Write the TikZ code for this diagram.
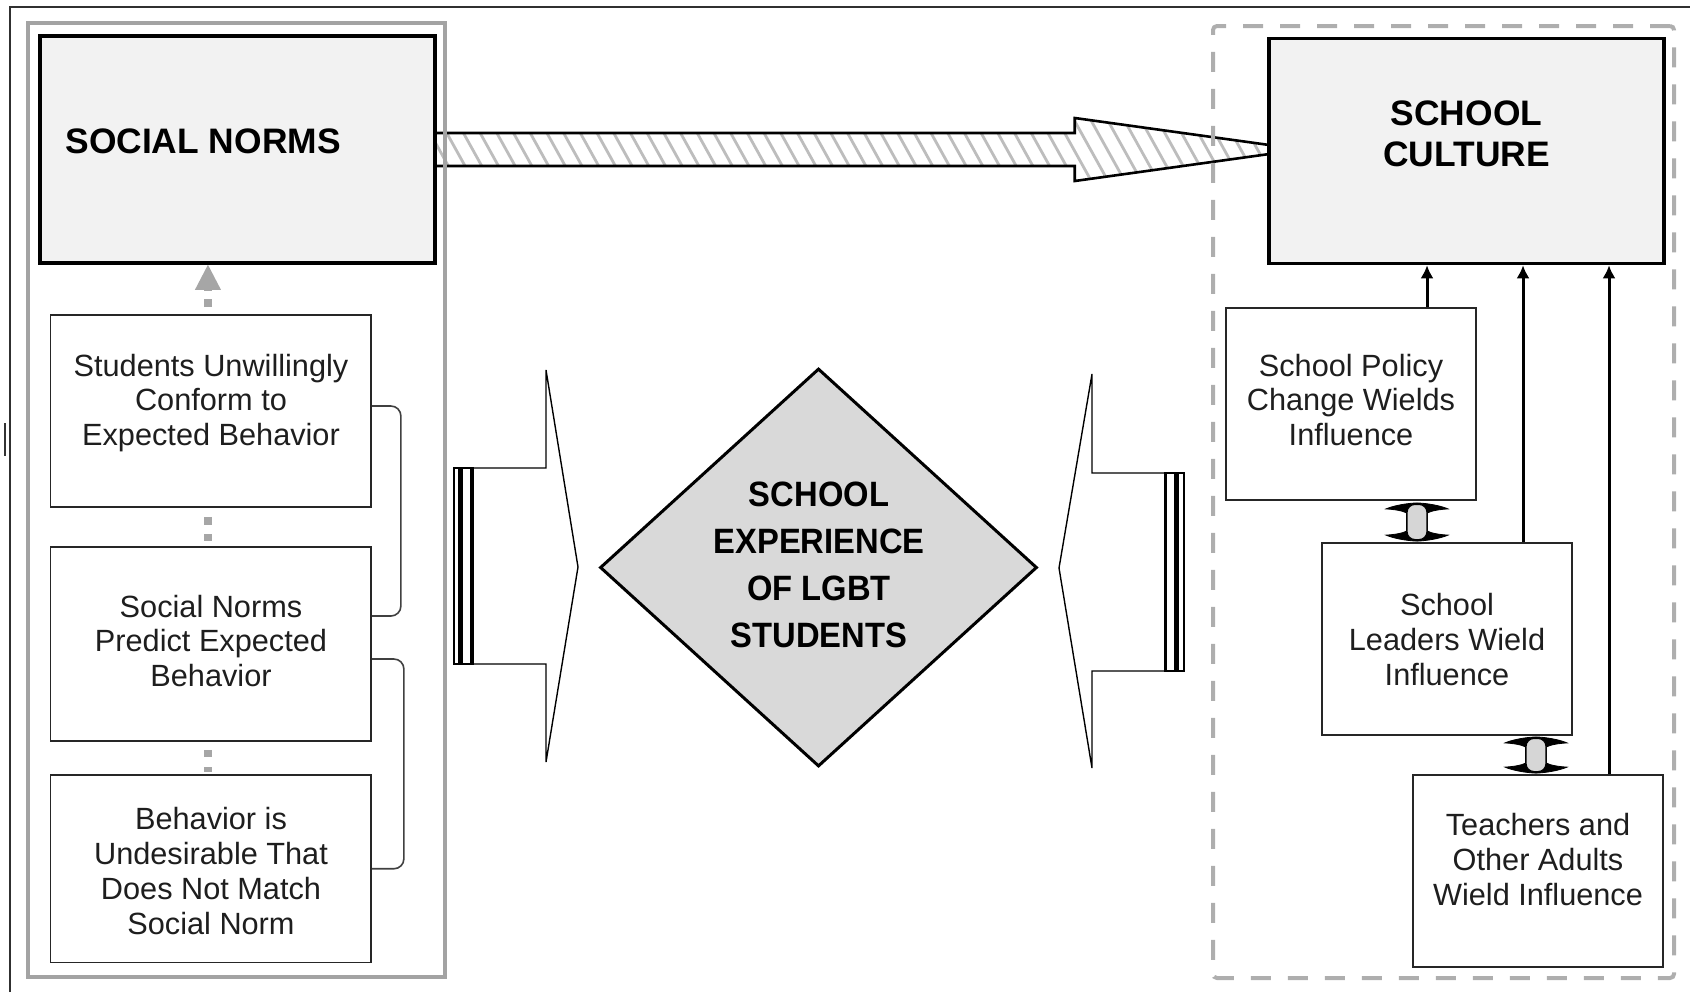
\documentclass[tikz,border=0pt]{standalone}
\usepackage{fontspec}
\setmainfont{Liberation Sans}
\newfontfamily\dfont[FakeStretch=0.93]{Liberation Sans}
\usetikzlibrary{shapes.geometric,arrows.meta,calc}
\definecolor{boxfill}{HTML}{F2F2F2}
\definecolor{diafill}{HTML}{D9D9D9}
\definecolor{graybox}{HTML}{A3A3A3}
\definecolor{dashcol}{HTML}{AEAEAE}
\definecolor{dotgray}{HTML}{A6A6A6}
\definecolor{hatchcol}{HTML}{BDBDBD}
\definecolor{txt}{HTML}{1E1E1E}
\definecolor{framecol}{HTML}{303030}
\definecolor{dagray}{HTML}{D6D6D6}
\pgfdeclarelayer{bg}
\pgfsetlayers{bg,main}
\tikzset{
  titlebox/.style={draw=black, line width=1.75pt, fill=boxfill, inner sep=0pt},
  smallbox/.style={draw=black!85, line width=0.9pt, fill=white, inner sep=0pt},
  boxtext/.style={align=center, inner sep=0pt, anchor=north, text=txt, font=\fontsize{15.35}{17.4}\selectfont},
  titletext/.style={inner sep=0pt, font=\fontsize{17.7}{20.5}\selectfont\bfseries},
  upline/.style={line width=1.5pt, -{Latex[length=6.5pt,width=6.5pt]}},
  dots/.style={draw=dotgray, line width=4pt},
  bracket/.style={draw=black!75, line width=0.8pt, rounded corners=5pt},
  blockarrow/.style={draw=black, line width=0.7pt, fill=white},
  hatch/.style={draw=hatchcol, line width=1.4pt},
  dblouter/.style={fill=black, draw=black, line width=0.4pt},
  dblshaft/.style={fill=dagray, draw=black, line width=0.6pt, rounded corners=4pt}
}
\newcommand\dblarr[2]{%
  \draw[dblouter] (#1) .. controls ($(#1)+(12,0.5)$) and ($(#1)+(24,3)$) .. ($(#1)+(31,6)$)
    .. controls ($(#1)+(22,6.5)$) and ($(#1)+(14,8)$) .. ($(#1)+(10.5,10)$)
    -- ($(#2)+(10.5,-10)$)
    .. controls ($(#2)+(14,-8)$) and ($(#2)+(22,-6.5)$) .. ($(#2)+(31,-6)$)
    .. controls ($(#2)+(24,-3)$) and ($(#2)+(12,-0.5)$) .. (#2)
    .. controls ($(#2)+(-12,-0.5)$) and ($(#2)+(-24,-3)$) .. ($(#2)+(-31,-6)$)
    .. controls ($(#2)+(-22,-6.5)$) and ($(#2)+(-14,-8)$) .. ($(#2)+(-10.5,-10)$)
    -- ($(#1)+(-10.5,10)$)
    .. controls ($(#1)+(-14,8)$) and ($(#1)+(-22,6.5)$) .. ($(#1)+(-31,6)$)
    .. controls ($(#1)+(-24,3)$) and ($(#1)+(-12,0.5)$) .. (#1) -- cycle;
  \draw[dblshaft] ($(#1)+(-10,1.5)$) rectangle ($(#2)+(10,-1.5)$);}
\begin{document}
\begin{tikzpicture}[x=0.5pt,y=-0.5pt]
\useasboundingbox (0,0) rectangle (1690,992);
% outer frame
\draw[line width=1pt, framecol] (9.5,992) -- (9.5,7) -- (1690,7);
\draw[line width=1pt, black!80] (4.7,423) -- (4.7,456);
% containers
\node[draw=graybox, line width=1.8pt, minimum width=208.5pt, minimum height=477pt, inner sep=0pt] (lgrp) at (236.5,500) {};
\node[draw=dashcol, line width=2pt, dash pattern=on 10pt off 8.5pt, rounded corners=2pt, minimum width=230.5pt, minimum height=476pt, inner sep=0pt] (rgrp) at (1443.5,502) {};
% title boxes
\node[titlebox, minimum width=197.5pt, minimum height=113.5pt] (sn) at (237.5,149.5) {};
\node[titletext, anchor=base west] (snt) at (65,153) {SOCIAL NORMS};
\node[titlebox, minimum width=197.5pt, minimum height=112.5pt] (cul) at (1466.5,151) {};
\node[titletext, align=center, anchor=north] (cult) at (1466.5,100) {SCHOOL\\CULTURE};
% left boxes
\node[smallbox, minimum width=160.25pt, minimum height=96pt] (b1) at (210.75,411) {};
\node[boxtext] (b1t) at (211,353.5) {Students Unwillingly\\Conform to\\Expected Behavior};
\node[smallbox, minimum width=160.25pt, minimum height=97pt] (b2) at (210.75,644) {};
\node[boxtext] (b2t) at (211,594.5) {Social Norms\\Predict Expected\\Behavior};
\node[smallbox, minimum width=160.25pt, minimum height=93.75pt] (b3) at (210.75,868.75) {};
\node[boxtext] (b3t) at (211,807) {Behavior is\\Undesirable That\\Does Not Match\\Social Norm};
% right boxes
\node[smallbox, minimum width=125pt, minimum height=96pt] (pol) at (1351,404) {};
\node[boxtext] (polt) at (1351,353.5) {School Policy\\Change Wields\\Influence};
\node[smallbox, minimum width=125pt, minimum height=96pt] (lead) at (1447,639) {};
\node[boxtext] (leadt) at (1447,593) {School\\Leaders Wield\\Influence};
\node[smallbox, minimum width=125pt, minimum height=96pt] (tea) at (1538,871) {};
\node[boxtext] (teat) at (1538,813) {Teachers and\\Other Adults\\Wield Influence};
% diamond
\node[draw, line width=1.5pt, fill=diafill, shape=diamond, minimum width=218.5pt, minimum height=199pt, inner sep=0pt] (dia) at (818.5,567.5) {};
\node[align=center, anchor=north, inner sep=0pt, font=\fontsize{17.6}{23.55}\selectfont\dfont\bfseries] (diat) at (819,481.7) {SCHOOL\\EXPERIENCE\\OF LGBT\\STUDENTS};
% hatched arrow (background)
\coordinate (h1) at ($(sn.east)+(0,-16.5)$);
\coordinate (h2) at ($(sn.east)+(638,-16.5)$);
\coordinate (h3) at ($(sn.east)+(638,-31.5)$);
\coordinate (h4) at ($(sn.east)+(865,0)$);
\coordinate (h5) at ($(sn.east)+(638,31.5)$);
\coordinate (h6) at ($(sn.east)+(638,16.5)$);
\coordinate (h7) at ($(sn.east)+(0,16.5)$);
\begin{pgfonlayer}{bg}
  \fill[white] (h1) -- (h2) -- (h3) -- (h4) -- (h5) -- (h6) -- (h7) -- cycle;
  \begin{scope}
    \clip (h1) -- (h2) -- (h3) -- (h4) -- (h5) -- (h6) -- (h7) -- cycle;
    \foreach \i in {0,...,60} \draw[hatch] ({395+\i*16.7},100) -- ++(50,90);
  \end{scope}
  \draw[line width=1.3pt, line join=miter] (h1) -- (h2) -- (h3) -- (h4) -- (h5) -- (h6) -- (h7);
\end{pgfonlayer}
% up arrows into School Culture
\coordinate (u1) at ([xshift=38pt]pol.north);
\coordinate (u2) at ([xshift=38pt]lead.north);
\coordinate (u3) at ([xshift=35.5pt]tea.north);
\draw[upline] (u1) -- (u1 |- cul.south);
\draw[upline] (u2) -- (u2 |- cul.south);
\draw[upline] (u3) -- (u3 |- cul.south);
% double arrows
\coordinate (da1t) at ([xshift=33pt,yshift=-1pt]pol.south);
\coordinate (da1b) at ([xshift=-15pt,yshift=0.5pt]lead.north);
\coordinate (da2t) at ([xshift=44.5pt,yshift=-0.5pt]lead.south);
\coordinate (da2b) at ([xshift=-1pt,yshift=0.5pt]tea.north);
\dblarr{da1t}{da1b}
\dblarr{da2t}{da2b}
% gray dotted connectors on the left
\coordinate (d1) at ([xshift=-1.4pt]b1.north);
\draw[dots, dash pattern=on 4pt off 4pt, shorten <=3.5pt, -{Triangle[length=12.5pt,width=13pt,line width=0pt,fill=dotgray]}] (d1) -- (d1 |- sn.south);
\coordinate (d2) at ([xshift=-1.4pt]b1.south);
\draw[dots, dash pattern=on 4pt off 4.5pt, shorten <=4.5pt, shorten >=2.5pt] (d2) -- (d2 |- b2.north);
\coordinate (d3) at ([xshift=-1.4pt]b2.south);
\draw[dots, dash pattern=on 3.75pt off 5pt, shorten <=4pt, shorten >=1pt] (d3) -- (d3 |- b3.north);
% brackets
\draw[bracket] ([yshift=2.5pt]b1.east) -- ++(29,0) |- ([yshift=14pt]b2.east);
\draw[bracket] ([yshift=-7.5pt]b2.east) -- ++(32,0) |- (b3.east);
% striped block arrows
\draw[blockarrow] (473,468) -- (546,468) -- (546,370) -- (578,567) -- (546,762) -- (546,664) -- (473,664) -- cycle;
\draw[line width=0.6pt] (454,468) rectangle (473,664);
\fill (458,468) rectangle (463,664);
\draw[line width=0.9pt] (471,468) -- (471,664);
\draw[blockarrow] (1165,473) -- (1092,473) -- (1092,374) -- (1059,568) -- (1092,768) -- (1092,671) -- (1165,671) -- cycle;
\draw[line width=0.6pt] (1165,473) rectangle (1184,671);
\fill (1174,473) rectangle (1179,671);
\draw[line width=0.9pt] (1166.5,473) -- (1166.5,671);
\end{tikzpicture}
\end{document}
